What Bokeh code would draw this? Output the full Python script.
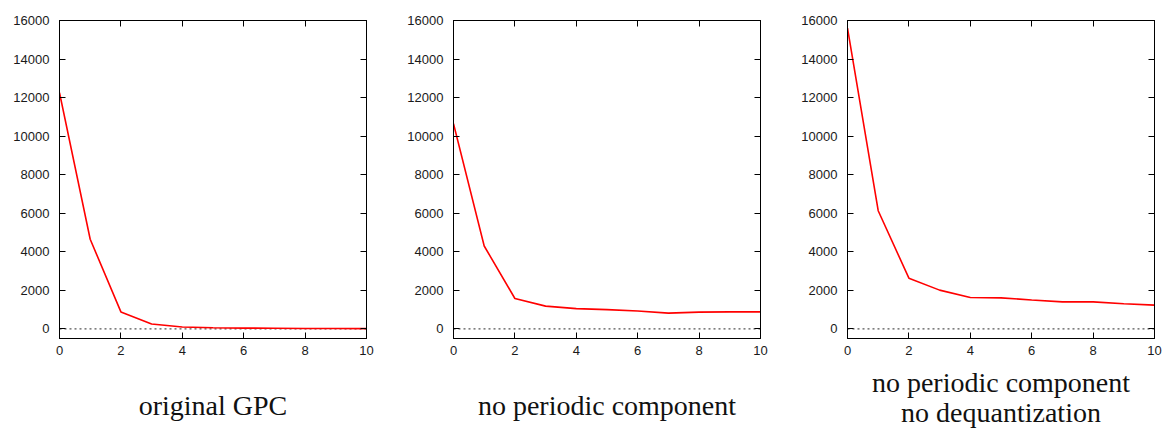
from bokeh.plotting import figure
from bokeh.layouts import row
from bokeh.models import LinearAxis, Range1d, FixedTicker
from bokeh.embed import file_html
from bokeh.resources import INLINE

x = [0, 1, 2, 3, 4, 5, 6, 7, 8, 9, 10]
gpc_original = [12250, 4650, 880, 250, 100, 60, 40, 30, 20, 15, 10]
no_periodic = [10650, 4300, 1575, 1180, 1050, 1000, 930, 815, 870, 880, 880]
no_periodic_no_dequant = [15600, 6130, 2630, 2010, 1630, 1610, 1500, 1400, 1400, 1300, 1230]
captions = ["original GPC", "no periodic component", "no periodic component\nno dequantization"]
x_ticks = [0, 2, 4, 6, 8, 10]
y_ticks = [0, 2000, 4000, 6000, 8000, 10000, 12000, 14000, 16000]

series = [gpc_original, no_periodic, no_periodic_no_dequant]
label_standoffs = [32, 32, 9]

figs = []
for i, (ys, cap) in enumerate(zip(series, captions)):
    first = i == 0
    last = i == 2
    left = 59 if first else 51
    right_b = 10 if last else 36
    width = left + 307 + right_b
    p = figure(width=width, height=432, output_backend="svg", toolbar_location=None,
               x_range=Range1d(0, 10), y_range=Range1d(-500, 16000),
               min_border_left=left, min_border_right=right_b,
               min_border_top=20, min_border_bottom=94)
    p.grid.visible = False
    p.outline_line_color = "black"
    p.outline_line_width = 1
    p.background_fill_color = "white"
    p.border_fill_color = "white"

    # zero line
    p.line(x=[x[0], x[-1]], y=[0, 0], line_color="#555555", line_width=1.2, line_dash="2 3")
    p.line(x=x, y=ys, line_color="#ff0000", line_width=1.6)

    for ax in (p.xaxis[0], p.yaxis[0]):
        ax.major_tick_in = 6
        ax.major_tick_out = 0
        ax.minor_tick_line_color = None
        ax.axis_line_color = "black"
        ax.major_tick_line_color = "black"
        ax.major_label_text_font = "Liberation Sans"
        ax.major_label_text_font_size = "13px"
        ax.major_label_text_color = "#1a1a1a"
    p.xaxis[0].ticker = FixedTicker(ticks=x_ticks)
    p.yaxis[0].ticker = FixedTicker(ticks=y_ticks)
    p.xaxis[0].major_label_standoff = 7
    p.yaxis[0].major_label_standoff = 10

    p.xaxis[0].axis_label = cap
    p.xaxis[0].axis_label_text_font = "Liberation Serif"
    p.xaxis[0].axis_label_text_font_size = "28px"
    p.xaxis[0].axis_label_text_font_style = "normal"
    p.xaxis[0].axis_label_text_color = "#111111"
    p.xaxis[0].axis_label_text_line_height = 0.97
    p.xaxis[0].axis_label_standoff = label_standoffs[i]

    # mirrored ticks (no labels)
    top = LinearAxis(ticker=FixedTicker(ticks=x_ticks), major_tick_in=6, major_tick_out=0,
                     minor_tick_line_color=None, major_label_text_font_size="0px",
                     major_label_text_color=None,
                     major_label_standoff=0, axis_line_color="black")
    right = LinearAxis(ticker=FixedTicker(ticks=y_ticks), major_tick_in=6, major_tick_out=0,
                       minor_tick_line_color=None, major_label_text_font_size="0px",
                       major_label_text_color=None,
                       major_label_standoff=0, axis_line_color="black")
    p.add_layout(top, "above")
    p.add_layout(right, "right")
    figs.append(p)

layout = row(*figs)
open("out.html", "w").write(file_html(layout, INLINE))
